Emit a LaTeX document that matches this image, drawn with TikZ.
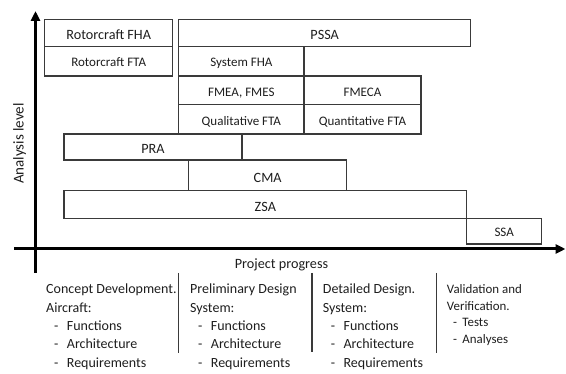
\documentclass[tikz,border=0pt]{standalone}
\usepackage{fontspec}
\setmainfont{Carlito}
\usetikzlibrary{arrows.meta}
\definecolor{edge}{HTML}{3A3A3A}
\definecolor{ink}{HTML}{1E1E1E}
% indented bullet lines of the phase descriptions
\newcommand{\dashitem}[1]{\makebox[20.7pt][l]{\hspace*{7.9pt}-}#1}
\newcommand{\dashitemsm}[1]{\makebox[15.6pt][l]{\hspace*{6.2pt}-}#1}

\begin{document}
\begin{tikzpicture}[x=1pt,y=-1pt,
  box/.style={draw=edge, line width=1.2pt, inner sep=0pt, text=ink, anchor=center},
  bigtxt/.style={font=\fontsize{14.2}{17}\selectfont, text height=14pt, text depth=0pt},
  smalltxt/.style={font=\fontsize{13}{16}\selectfont, text height=11.5pt, text depth=0pt},
  axis/.style={line width=3pt, draw=black, -{Triangle[length=10pt,width=9pt]}},
  sep/.style={draw=edge, line width=1.2pt},
  coltxt/.style={anchor=base west, inner sep=0pt, text=ink, font=\fontsize{14}{17}\selectfont},
  coltxtsm/.style={anchor=base west, inner sep=0pt, text=ink, font=\fontsize{12.9}{16}\selectfont},
  axlabel/.style={inner sep=0pt, text=ink, font=\fontsize{14.2}{17}\selectfont},
]
\useasboundingbox (0,0) rectangle (566,374);

% analysis boxes
\node[box, bigtxt,   minimum width=128pt,   minimum height=27pt]   (fha)      at (108.7,32.8)  {Rotorcraft FHA};
\node[box, smalltxt, minimum width=128pt,   minimum height=29.7pt] (fta)      at (108.7,61.2)  {Rotorcraft FTA};
\node[box, bigtxt,   minimum width=292pt,   minimum height=27pt]   (pssa)     at (324.7,32.8)  {PSSA};
\node[box, smalltxt, minimum width=125.3pt, minimum height=29.7pt] (sysfha)   at (241.35,61.2) {System FHA};
\node[box, smalltxt, minimum width=125.3pt, minimum height=28.7pt] (fmea)     at (241.35,90.35) {FMEA, FMES};
\node[box, smalltxt, minimum width=117pt,   minimum height=28.7pt] (fmeca)    at (362.5,90.35) {FMECA};
\node[box, smalltxt, minimum width=125.3pt, minimum height=29.3pt] (qualfta)  at (241.35,119.35) {Qualitative FTA};
\node[box, smalltxt, minimum width=117pt,   minimum height=29.3pt] (quantfta) at (362.5,119.35) {Quantitative FTA};
\node[box, bigtxt,   minimum width=178pt,   minimum height=26pt]   (pra)      at (153,147)     {PRA};
\node[box, bigtxt,   minimum width=158pt,   minimum height=30.7pt] (cma)      at (267.7,175.35) {CMA};
\node[box, bigtxt,   minimum width=402.7pt, minimum height=27.6pt] (zsa)      at (265.35,204.5) {ZSA};
\node[box, smalltxt, minimum width=75pt,    minimum height=25.7pt] (ssa)      at (504.2,231.15) {SSA};

% axes
\coordinate (ybot) at (35.5,272.7);
\coordinate (ytop) at (35.5,11);
\coordinate (xleft) at (14,249);
\coordinate (xright) at (565.5,249);
\draw[axis] (xleft) -- (xright);
\draw[axis] (ybot) -- (ytop);
\node[axlabel, anchor=base, rotate=90, font=\fontsize{15}{18}\selectfont] (ylab) at (23.5,143.5) {Analysis level};
\node[axlabel, anchor=base] (xlab) at (281.5,268.5) {Project progress};

% phase separators
\coordinate (s1t) at (178.5,273); \coordinate (s1b) at (178.5,353);
\coordinate (s2t) at (312,273);   \coordinate (s2b) at (312,352);
\coordinate (s3t) at (436.5,273); \coordinate (s3b) at (436.5,353);
\draw[sep] (s1t) -- (s1b);
\draw[sep] (s2t) -- (s2b);
\draw[sep] (s3t) -- (s3b);

% phase descriptions
\foreach \t [count=\i] in {Concept Development., Aircraft:, \dashitem{Functions}, \dashitem{Architecture}, \dashitem{Requirements}}
  \node[coltxt] (pa\i) at (46,{294+18.3*(\i-1)}) {\t};
\foreach \t [count=\i] in {Preliminary Design, System:, \dashitem{Functions}, \dashitem{Architecture}, \dashitem{Requirements}}
  \node[coltxt] (pb\i) at (190,{294+18.3*(\i-1)}) {\t};
\foreach \t [count=\i] in {Detailed Design., System:, \dashitem{Functions}, \dashitem{Architecture}, \dashitem{Requirements}}
  \node[coltxt] (pc\i) at (322.7,{294+18.3*(\i-1)}) {\t};
\foreach \t [count=\i] in {Validation and, Verification., \dashitemsm{Tests}, \dashitemsm{Analyses}}
  \node[coltxtsm] (pd\i) at (446.7,{294+16.4*(\i-1)}) {\t};
\end{tikzpicture}
\end{document}
